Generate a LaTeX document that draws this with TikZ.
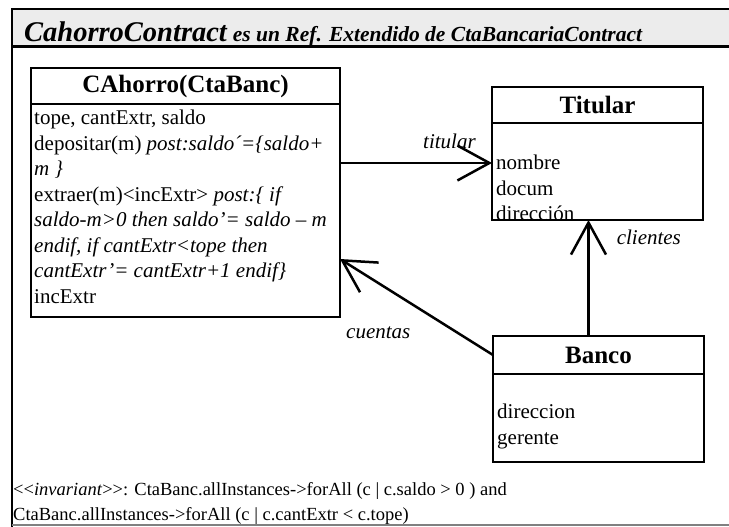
\documentclass[tikz,border=0pt]{standalone}
\usepackage{fontspec}
\setmainfont{Liberation Serif}
\usetikzlibrary{arrows.meta,positioning}
\tikzset{%
	cabecera/.style  = {draw, rectangle, line width=2.5pt, inner sep=0pt, outer sep=0pt, minimum width=#1, minimum height=36pt, text centered, font=\fontsize{25}{28}\selectfont\bfseries},
	cuerpo/.style    = {draw, rectangle, line width=2.5pt, inner sep=0pt, outer sep=0pt, minimum width=#1},
	atributos/.style = {anchor=north west, align=left, inner sep=0pt, font=\fontsize{21}{25.5}\selectfont},
	rol/.style       = {font=\fontsize{21}{24}\selectfont\itshape, inner sep=0pt},
	asoc/.style      = {line width=2.5pt, -{Straight Barb[length=32pt,width=35pt]}},
}

\begin{document}
\begin{tikzpicture}[x=1pt,y=-1pt]
	\useasboundingbox (0,0) rectangle (729,527);
	% marco
	\fill[gray!15] (12,9) rectangle (729,47);
	\draw[line width=2pt] (729,9) -- (12,9) -- (12,527);
	\draw[line width=3pt] (12,47) -- (729,47);
	\draw[gray, line width=1.5pt] (12,525) -- (729,525);
	\node[anchor=base west, inner sep=0pt] (titulo) at (24,42) {\bfseries\itshape\fontsize{28.5}{32}\selectfont CahorroContract\hspace{6pt}\fontsize{21.5}{24}\selectfont es un Ref. Extendido de CtaBancariaContract};
	% clases
	\node[cabecera=309pt] (ahorro) at (185.5,86) {CAhorro(CtaBanc)};
	\node[cuerpo=309pt, minimum height=213pt, below=0pt of ahorro] (ahorrob) {};
	\node[atributos] (ahorroatr) at ([xshift=3pt,yshift=-6pt]ahorrob.north west) {tope, cantExtr, saldo\\
		depositar(m) \textit{post:saldo´=\{saldo+}\\
		\textit{m \}}\\
		extraer(m)<incExtr> \textit{post:\{ if}\\
		\textit{saldo-m>0 then saldo’= saldo – m}\\
		\textit{endif, if cantExtr<tope then}\\
		\textit{cantExtr’= cantExtr+1 endif\}}\\
		incExtr};
	\node[cabecera=211pt] (titular) at (597.5,105) {Titular};
	\node[cuerpo=211pt, minimum height=97pt, below=0pt of titular] (titularb) {};
	\node[atributos] (titularatr) at ([xshift=4pt,yshift=-32pt]titularb.north west) {nombre\\ docum\\ dirección};
	\node[cabecera=211pt, minimum height=38pt] (banco) at (598.5,355) {Banco};
	\node[cuerpo=211pt, minimum height=88pt, below=0pt of banco] (bancob) {};
	\node[atributos] (bancoatr) at ([xshift=4pt,yshift=-30pt]bancob.north west) {direccion\\ gerente};
	% asociaciones
	\coordinate (ptit) at ([yshift=-40pt]titularb.north west);
	\draw[asoc] (ahorrob.east |- ptit) -- (ptit) node[rol, pos=0.72, yshift=22pt] {titular};
	\draw[asoc] ([xshift=-10pt]banco.north) -- ([xshift=-10pt]banco.north |- titularb.south) node[rol, pos=0.85, right=27pt] {clientes};
	\draw[asoc] (banco.west) -- ([yshift=-48.5pt]ahorrob.east) node[rol, pos=0.75, yshift=-50pt] {cuentas};
	% invariante
	\node[atributos, font=\fontsize{18.5}{25}\selectfont] (invariante) at (13,482) {<{}<\textit{invariant}>{}>: CtaBanc.allInstances->forAll (c | c.saldo > 0 ) and\\
		CtaBanc.allInstances->forAll (c | c.cantExtr < c.tope)};
\end{tikzpicture}
\end{document}
